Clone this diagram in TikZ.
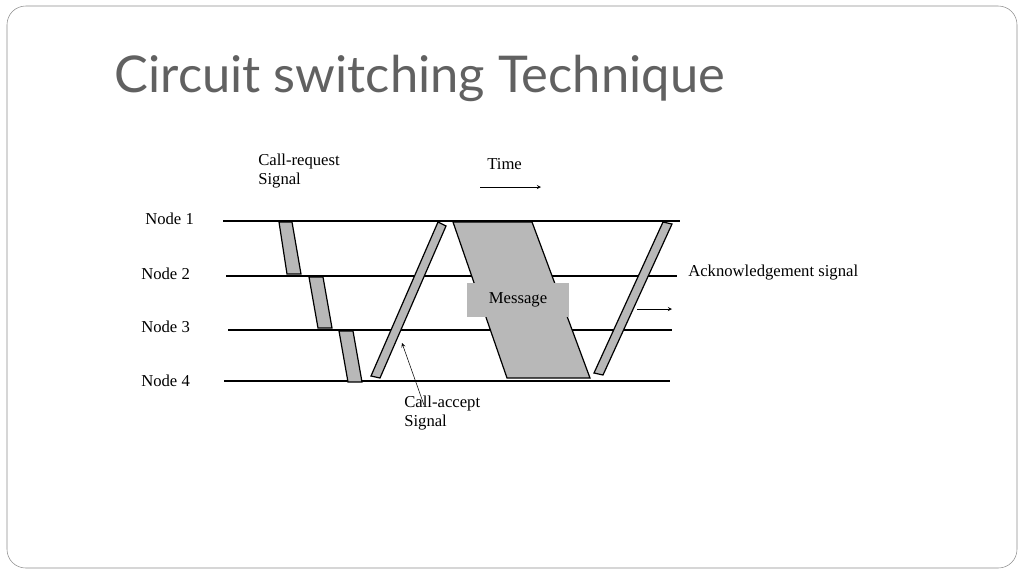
\documentclass[tikz,border=0pt]{standalone}
\usepackage{fontspec}
\setmainfont{Liberation Serif}
\newfontfamily\titlefont{Lato}
\begin{document}
\begin{tikzpicture}[x=0.75pt,y=-0.75pt,
  tl/.style={line width=1.3pt},
  slab/.style={draw=black,fill=black!28,line width=0.9pt},
  lbl/.style={font=\fontsize{12.5}{14}\selectfont,align=left,inner sep=0pt}]
\useasboundingbox (0,0) rectangle (1024,576);
\draw[black!45,rounded corners=14pt] (7,6) rectangle (1017,568);
\node[anchor=west,text=black!62,font=\titlefont\fontsize{38}{44}\selectfont] (title) at (110,78) {Circuit switching Technique};
% time lines
\draw[tl] (223,221) coordinate (n1a) -- (680,221) coordinate (n1b);
\draw[tl] (226,276) coordinate (n2a) -- (677,276) coordinate (n2b);
\draw[tl] (228,330) coordinate (n3a) -- (672,330) coordinate (n3b);
\draw[tl] (224,381) coordinate (n4a) -- (670,381) coordinate (n4b);
\node[lbl,anchor=west] (l1) at (145,219) {Node 1};
\node[lbl,anchor=west] (l2) at (141,274) {Node 2};
\node[lbl,anchor=west] (l3) at (141,327) {Node 3};
\node[lbl,anchor=west] (l4) at (141,381) {Node 4};
% request slabs
\draw[slab] (279,222) -- (292,222) -- (301,274) -- (287,274) -- cycle;
\draw[slab] (309,277) -- (323,277) -- (332,328) -- (318,328) -- cycle;
\draw[slab] (339,331) -- (353,331) -- (362,382) -- (348,382) -- cycle;
% accept slab
\draw[slab] (371,376) -- (380,378) -- (446,226) -- (438,222) -- cycle;
% message
\draw[slab] (453,222) -- (532,222) -- (590,378) -- (507,378) -- cycle;
\node[lbl,fill=black!28,inner sep=2pt,minimum width=76pt,minimum height=26pt,align=center] (msg) at (518,300) {Message};
% ack
\draw[slab] (594,373) -- (603,375) -- (672,224) -- (663,222) -- cycle;
% labels
\node[lbl,anchor=north west] (req) at (258,154) {Call-request\\Signal};
\node[lbl,anchor=north west] (time) at (487,158) {Time};
\coordinate (ta) at (480,187); \coordinate (tb) at (541,187);
\draw[-stealth] (ta) -- (tb);
\node[lbl,anchor=west] (ack) at (688,273) {Acknowledgement signal};
\coordinate (aa) at (637,309); \coordinate (ab) at (672,309);
\draw[-stealth] (aa) -- (ab);
\node[lbl,anchor=north west] (acc) at (404,396) {Call-accept\\Signal};
\coordinate (cp) at (402,343);
\draw[-stealth] (424,405) -- (cp);
\end{tikzpicture}
\end{document}
